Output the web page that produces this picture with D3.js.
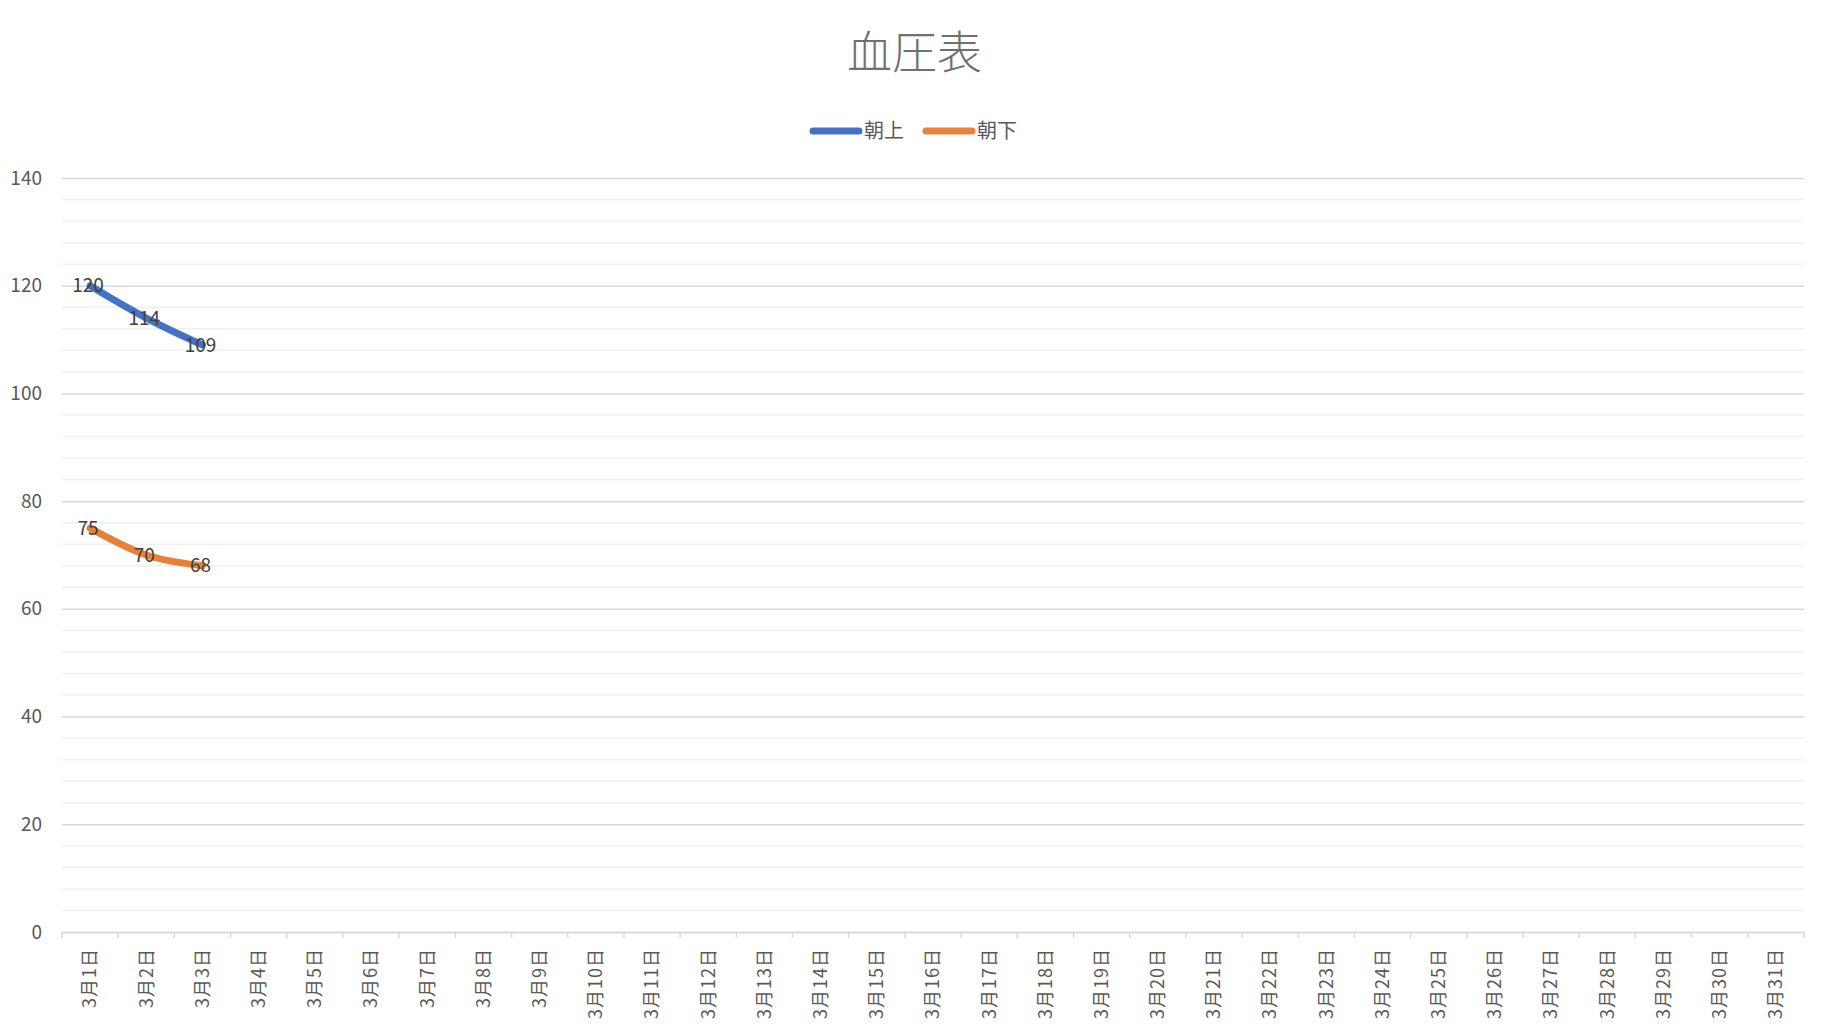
<!DOCTYPE html>
<html>
<head>
<meta charset="utf-8">
<script src="https://cdn.jsdelivr.net/npm/d3@7"></script>
<style>
  html, body { margin: 0; padding: 0; background: #fff; }
  #chart { width: 1829px; height: 1034px; overflow: hidden; }
  text { font-family: "Noto Sans CJK JP", "Noto Sans", sans-serif; }
</style>
</head>
<body>
<div id="chart"></div>
<script>
// 日付ラベル (3月1日 .. 3月31日)
var days = [];
for (var d = 1; d <= 31; d++) days.push("3月" + d + "日");
// 測定値 (記録のある日のみ)
var asaUe = [120, 114, 109];
var asaShita = [75, 70, 68];
var seriesNames = ["朝上", "朝下"];
var seriesColors = ["#4472C4", "#E8803A"];
var yTicks = [0, 20, 40, 60, 80, 100, 120, 140];
var yMinorTicks = d3.range(0, 141, 4);

var W = 1829, H = 1034;
var margin = { top: 178, right: 25, bottom: 102, left: 62 }
    , width = W - margin.left - margin.right
    , height = H - margin.top - margin.bottom;

var svg = d3.select("#chart").append("svg")
    .attr("width", W)
    .attr("height", H);

// タイトル
svg.append("text")
    .attr("x", W / 2)
    .attr("y", 69)
    .attr("text-anchor", "middle")
    .attr("font-size", 45)
    .attr("font-weight", 300)
    .attr("fill", "#707070")
    .text("血圧表");

var xScale = d3.scaleBand()
    .domain(days)
    .range([0, width]);

var yScale = d3.scaleLinear()
    .domain([0, 140])
    .range([height, 0]);

var g = svg.append("g")
    .attr("transform", "translate(" + margin.left + "," + margin.top + ")");

// 補助目盛線
g.append("g")
    .selectAll("line")
    .data(yMinorTicks.filter(function (v) { return v % 20 !== 0; }))
    .enter().append("line")
    .attr("x1", 0).attr("x2", width)
    .attr("y1", function (v) { return yScale(v); })
    .attr("y2", function (v) { return yScale(v); })
    .attr("stroke", "#f0f0f0")
    .attr("stroke-width", 1.5);

// 目盛線 + 縦軸ラベル
var yAxis = g.append("g")
    .call(d3.axisLeft(yScale).tickValues(yTicks).tickSize(-width).tickPadding(20));
yAxis.select(".domain").remove();
yAxis.selectAll(".tick line")
    .attr("stroke", "#d9d9d9")
    .attr("stroke-width", 1.5);
yAxis.selectAll(".tick text")
    .attr("font-size", 19)
    .attr("fill", "#595959")
    .style("font-family", "'Noto Sans CJK JP', sans-serif");

// 横軸
var xAxis = g.append("g")
    .attr("transform", "translate(0," + height + ")")
    .call(d3.axisBottom(xScale).tickSize(0));
xAxis.select(".domain")
    .attr("stroke", "#d9d9d9")
    .attr("stroke-width", 1.5);
xAxis.selectAll(".tick text")
    .attr("font-size", 18)
    .attr("fill", "#595959")
    .attr("letter-spacing", "1px")
    .style("font-family", "'Noto Sans CJK JP', sans-serif")
    .attr("text-anchor", "end")
    .attr("dy", "0.35em")
    .attr("transform", "translate(0,16) rotate(-90)")
    .attr("x", 0).attr("y", 0);

// 目盛 (カテゴリの境界)
g.append("g")
    .selectAll("line")
    .data(days.concat(["_end"]))
    .enter().append("line")
    .attr("x1", function (d, i) { return i < days.length ? xScale(d) : width; })
    .attr("x2", function (d, i) { return i < days.length ? xScale(d) : width; })
    .attr("y1", height)
    .attr("y2", height + 6)
    .attr("stroke", "#d9d9d9")
    .attr("stroke-width", 1.5);

var line = d3.line()
    .x(function (d, i) { return xScale(days[i]) + xScale.bandwidth() / 2; })
    .y(function (d) { return yScale(d); })
    .curve(d3.curveMonotoneX);

[asaUe, asaShita].forEach(function (values, s) {
    g.append("path")
        .datum(values)
        .attr("fill", "none")
        .attr("stroke", seriesColors[s])
        .attr("stroke-width", 7)
        .attr("stroke-linecap", "round")
        .attr("stroke-linejoin", "round")
        .attr("d", line);

    g.append("g")
        .selectAll("text")
        .data(values)
        .enter().append("text")
        .attr("x", function (d, i) { return xScale(days[i]) + xScale.bandwidth() / 2 - 2; })
        .attr("y", function (d) { return yScale(d); })
        .attr("dy", "0.35em")
        .attr("text-anchor", "middle")
        .attr("font-size", 19)
        .attr("fill", "#404040")
        .text(function (d) { return d; });
});

// 凡例
var legend = svg.append("g");
var legendX = [810, 923];
seriesNames.forEach(function (name, s) {
    var lg = legend.append("g").attr("transform", "translate(" + legendX[s] + ",131)");
    lg.append("line")
        .attr("x1", 3).attr("x2", 49)
        .attr("stroke", seriesColors[s])
        .attr("stroke-width", 7)
        .attr("stroke-linecap", "round");
    lg.append("text")
        .attr("x", 54)
        .attr("dy", "0.35em")
        .attr("font-size", 20)
        .attr("fill", "#595959")
        .text(name);
});
</script>
</body>
</html>
